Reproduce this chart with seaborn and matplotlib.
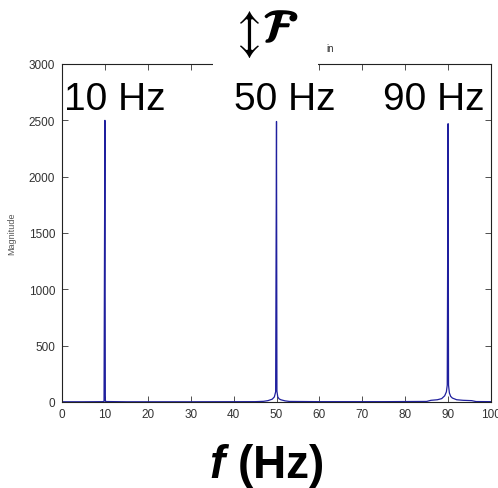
import matplotlib
matplotlib.use("Agg")
import matplotlib.pyplot as plt
import matplotlib.patches as mpatches
import matplotlib.patheffects as pe
import seaborn as sns
import pandas as pd

# ---- data ----
freq = [0, 5, 9.5, 9.8, 9.9, 10.0, 10.1, 10.4,
        15, 30, 45, 47, 48, 49, 49.5, 49.8, 49.9, 50.0,
        50.1, 50.3, 50.6, 51, 52, 53, 60, 75,
        85, 86, 87.5, 88.5, 89.2, 89.6, 89.8, 89.9, 90.0,
        90.1, 90.3, 90.6, 91, 92, 93.5, 95.5, 96.5, 100]
magnitude = [2, 2, 3, 5, 1260, 2500, 8, 4,
             2, 2, 3, 6, 12, 25, 45, 90, 1300, 2490,
             95, 45, 28, 20, 10, 5, 3, 3,
             5, 15, 20, 30, 55, 90, 150, 1340, 2470,
             150, 80, 50, 35, 20, 15, 12, 4, 3]
peak_labels = ["10 Hz", "50 Hz", "90 Hz"]
x_ticks = list(range(0, 101, 10))
y_ticks = list(range(0, 3001, 500))

sns.set_theme(style="white")
plt.rcParams["font.family"] = ["Liberation Sans", "DejaVu Sans"]
plt.rcParams["text.color"] = "black"
plt.rcParams["mathtext.fontset"] = "custom"
plt.rcParams["mathtext.bfit"] = "Liberation Sans:bold:italic"
plt.rcParams["mathtext.rm"] = "Liberation Sans"

W, H = 498, 489
fig = plt.figure(figsize=(W / 100, H / 100), dpi=100)
ax = fig.add_axes([62 / W, 1 - 403 / H, (491 - 62) / W, (403 - 65) / H])

df = pd.DataFrame({"f": freq, "mag": magnitude})
sns.lineplot(data=df, x="f", y="mag", ax=ax, color="#1f1f9e", lw=0.9,
             estimator=None, sort=False)

ax.set_xlim(0, 100)
ax.set_ylim(0, 3000)
ax.set_xticks(x_ticks)
ax.set_yticks(y_ticks)
ax.set_xlabel("")
ax.set_ylabel("")
for s in ax.spines.values():
    s.set_color("#222222")
    s.set_linewidth(0.8)
ax.tick_params(direction="in", length=4, width=0.6, color="#333333",
               top=True, right=True, bottom=True, left=True,
               labelsize=8.5, labelcolor="#333333")
ax.tick_params(axis="x", pad=4)
ax.tick_params(axis="y", pad=5)

# white box hiding part of the top border
fig.patches.append(mpatches.Rectangle((213 / W, 1 - 76 / H), (318 - 213) / W, 20 / H,
                                      transform=fig.transFigure, facecolor="white",
                                      edgecolor="none", zorder=5))

# peak labels
for lab, xp in zip(peak_labels, [64, 234, 383]):
    fig.text(xp / W, 1 - 110 / H, lab, ha="left", va="baseline", fontsize=28,
             color="black", zorder=6)

fig.text(244 / W, 1 - 34 / H, r"$\updownarrow$", ha="center", va="center",
         fontsize=35, math_fontfamily="stix", color="black", zorder=6)
fig.text(281 / W, 1 - 31 / H, r"$\mathcal{F}$", ha="center", va="center",
         fontsize=33, math_fontfamily="stix", color="black", zorder=6,
         path_effects=[pe.withStroke(linewidth=1.6, foreground="black")])
fig.text(326 / W, 1 - 52 / H, "in", ha="left", va="baseline", fontsize=7,
         color="#333333", zorder=6)

fig.text(12 / W, 1 - 234 / H, "Magnitude", rotation=90, ha="center", va="center",
         fontsize=6.5, color="#555555")

fig.text(266 / W, 1 - 478 / H, r"$\mathbfit{f}$ (Hz)", ha="center", va="baseline",
         fontsize=33, fontweight="bold", color="black")

fig.savefig("out.png", dpi=100)
